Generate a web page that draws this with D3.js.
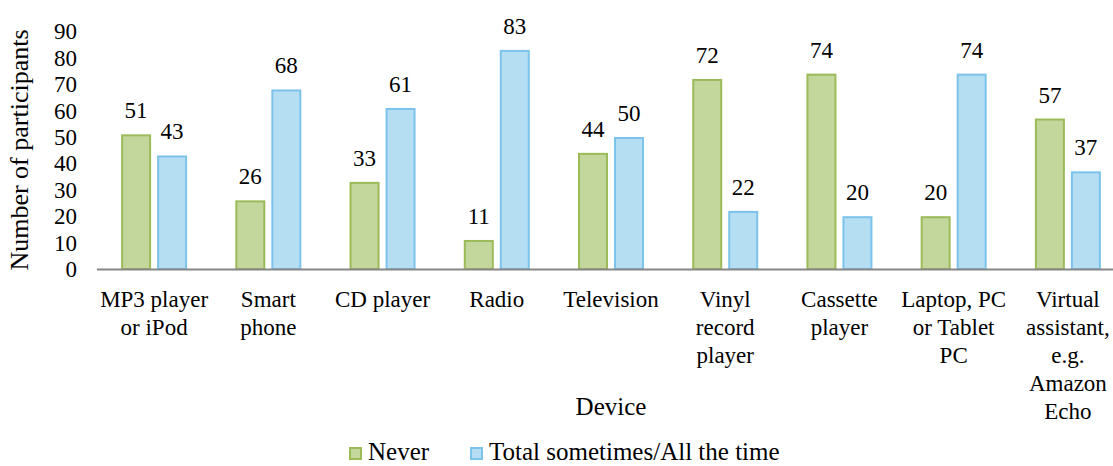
<!DOCTYPE html>
<html>
<head>
<meta charset="utf-8">
<script src="https://cdn.jsdelivr.net/npm/d3@7/dist/d3.min.js"></script>
<style>
  #chart text, #chart tspan { font-family: "Liberation Serif" !important; }
</style>
</head>
<body style="margin:0">
<svg id="chart" width="1113" height="466" font-family="Liberation Serif"></svg>
<script>
const categories = [
  ["MP3 player", "or iPod"],
  ["Smart", "phone"],
  ["CD player"],
  ["Radio"],
  ["Television"],
  ["Vinyl", "record", "player"],
  ["Cassette", "player"],
  ["Laptop, PC", "or Tablet", "PC"],
  ["Virtual", "assistant,", "e.g.", "Amazon", "Echo"]
];
const seriesNames = ["Never", "Total sometimes/All the time"];
const neverValues = [51, 26, 33, 11, 44, 72, 74, 20, 57];
const sometimesValues = [43, 68, 61, 83, 50, 22, 20, 74, 37];
const yTicks = [0, 10, 20, 30, 40, 50, 60, 70, 80, 90];
const fills = ["#c3d69b", "#b6def3"];
const strokes = ["#9bbb59", "#7cc3ec"];

const svg = d3.select("#chart");
const catKeys = categories.map(c => c.join(" "));
const x = d3.scaleBand().domain(catKeys).range([97, 1125]).paddingInner(0).paddingOuter(0);
const xs = d3.scaleBand().domain([0, 1]).range([0, x.bandwidth()]).paddingInner(1/6).paddingOuter(0.67);
const y = d3.scaleLinear().domain([0, 90]).range([269, 31.4]);

function txt(sel, size) {
  return sel.attr("font-family", "Liberation Serif")
    .style("font-family", () => '"Liberation Serif"')
    .style("font-size", () => size + "px").attr("fill", "#000");
}

// y tick labels
txt(svg.append("g").selectAll("text").data(yTicks).join("text"), 23)
  .attr("x", 77).attr("y", d => y(d) + 8)
  .attr("text-anchor", "end")
  .text(d => d);

// bars
const data = catKeys.map((k, i) => ({k, vals: [neverValues[i], sometimesValues[i]]}));
const groups = svg.append("g").selectAll("g").data(data).join("g")
  .attr("transform", d => `translate(${x(d.k)},0)`);
groups.selectAll("rect").data(d => d.vals.map((v, j) => ({v, j}))).join("rect")
  .attr("x", d => xs(d.j) + 1).attr("width", xs.bandwidth() - 2)
  .attr("y", d => y(d.v) + 1).attr("height", d => y(0) - y(d.v) - 1)
  .attr("fill", d => fills[d.j]).attr("stroke", d => strokes[d.j]).attr("stroke-width", 2);
txt(groups.selectAll("text").data(d => d.vals.map((v, j) => ({v, j}))).join("text"), 23)
  .attr("x", d => xs(d.j) + xs.bandwidth() / 2).attr("y", d => y(d.v) - 16)
  .attr("text-anchor", "middle")
  .text(d => d.v);

// x axis line
svg.append("line").attr("x1", 97).attr("x2", 1113).attr("y1", 269.5).attr("y2", 269.5)
  .attr("stroke", "#868686").attr("stroke-width", 2);

// category labels
const cl = txt(svg.append("g").selectAll("text").data(categories).join("text"), 23)
  .attr("text-anchor", "middle")
  .attr("transform", (d, i) => `translate(${x(catKeys[i]) + x.bandwidth() / 2},307)`);
cl.selectAll("tspan").data(d => d).join("tspan")
  .attr("x", 0).attr("y", (d, i) => i * 28).text(d => d);

// axis titles
txt(svg.append("text"), 25).attr("x", 611).attr("y", 415).attr("text-anchor", "middle")
  .text("Device");
txt(svg.append("text"), 26).attr("transform", "translate(28,150) rotate(-90)")
  .attr("text-anchor", "middle").text("Number of participants");

// legend
const legendX = [349, 470];
const lg = svg.append("g").selectAll("g").data(seriesNames).join("g")
  .attr("transform", (d, i) => `translate(${legendX[i]},447)`);
lg.append("rect").attr("x", 1).attr("y", 1).attr("width", 11).attr("height", 11)
  .attr("fill", (d, i) => fills[i]).attr("stroke", (d, i) => strokes[i]).attr("stroke-width", 2);
txt(lg.append("text"), 25).attr("x", 19).attr("y", 13).text(d => d);
</script>
</body>
</html>
